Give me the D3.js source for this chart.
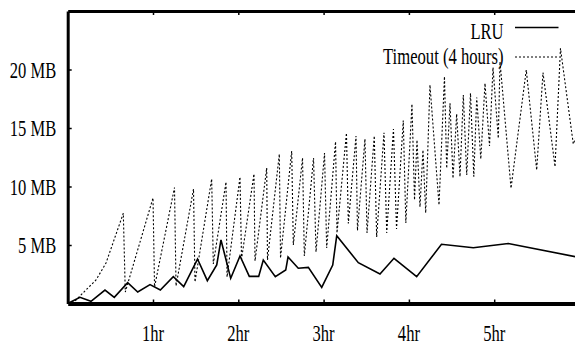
<!DOCTYPE html>
<html>
<head>
<meta charset="utf-8">
<script src="https://cdn.jsdelivr.net/npm/d3@7"></script>
<style>
  html, body { margin: 0; padding: 0; background: #fff; }
  svg { display: block; }
  .lbl { font-family: "Liberation Serif", "Times New Roman", Times, serif; }
</style>
</head>
<body>
<svg id="chart" width="575" height="346"></svg>
<script>
// series: LRU cache size (hours, MB)
const lruHours = [0, 0.144, 0.273, 0.437, 0.546, 0.703, 0.821, 0.965, 1.086, 1.238, 1.36, 1.522,
  1.637, 1.747, 1.797, 1.911, 2.02, 2.129, 2.239, 2.293, 2.434, 2.556, 2.583, 2.703, 2.821,
  2.978, 3.107, 3.154, 3.407, 3.661, 3.825, 4.091, 4.382, 4.755, 5.165, 6.0];
const lruMB = [0, 0.53, 0.19, 1.15, 0.53, 1.78, 0.98, 1.61, 1.15, 2.29, 1.44, 3.80,
  1.95, 3.29, 5.43, 2.15, 4.06, 2.32, 2.32, 3.72, 2.29, 2.86, 3.97, 3.01, 3.09,
  1.38, 3.29, 5.79, 3.49, 2.52, 3.86, 2.29, 5.06, 4.77, 5.13, 3.93];

// series: Timeout (4 hours) cache size (hours, MB)
const timeoutHours = [0, 0.086, 0.179, 0.332, 0.449, 0.543, 0.652, 0.675, 1.0, 1.018, 1.252, 1.27,
  1.475, 1.492, 1.688, 1.707, 1.856, 1.868, 2.02, 2.038, 2.184, 2.196, 2.333, 2.342, 2.481, 2.495,
  2.626, 2.645, 2.753, 2.774, 2.882, 2.911, 3.011, 3.036, 3.14, 3.157, 3.268, 3.29, 3.38, 3.397,
  3.485, 3.509, 3.594, 3.622, 3.708, 3.74, 3.819, 3.855, 3.934, 3.964, 4.036, 4.066, 4.095, 4.13,
  4.165, 4.197, 4.247, 4.353, 4.417, 4.443, 4.482, 4.517, 4.56, 4.599, 4.638, 4.678, 4.722, 4.761,
  4.795, 4.843, 4.892, 4.945, 4.986, 5.048, 5.068, 5.197, 5.376, 5.498, 5.572, 5.713, 5.777, 5.927, 6.0];
const timeoutMB = [0, 0.21, 0.90, 2.01, 3.46, 5.43, 7.71, 0.98, 9.02, 1.41, 9.91, 1.50,
  9.79, 1.84, 10.64, 3.38, 10.38, 2.26, 10.81, 3.80, 11.07, 3.63, 11.58, 3.72, 12.78, 3.89,
  13.03, 5.00, 12.44, 4.06, 12.44, 4.40, 12.86, 4.74, 13.83, 6.03, 14.57, 6.84, 14.32, 6.24,
  14.06, 6.03, 14.32, 5.68, 14.60, 6.03, 14.91, 6.37, 15.64, 6.88, 17.05, 8.85, 13.97, 8.25,
  13.12, 7.74, 18.68, 8.42, 19.40, 11.56, 17.11, 10.70, 16.20, 10.84, 17.82, 10.98, 17.97, 10.84,
  17.61, 12.35, 18.82, 13.46, 20.17, 14.12, 20.68, 9.85, 19.96, 11.41, 19.74, 11.69, 21.81, 13.63, 15.0];

const yTicks = [5, 10, 15, 20];
const xTicks = [1, 2, 3, 4, 5];
const legendLabels = ['LRU', 'Timeout (4 hours)'];

// gnuplot-ish look: narrow Times text. Widths are pinned with textLength
// (Times advance widths, em units) so the squeeze holds whatever font is picked.
const FONT_SIZE = 23;
const SQUEEZE = 0.72;
const timesEm = {
  '0': 0.5, '1': 0.5, '2': 0.5, '3': 0.5, '4': 0.5, '5': 0.5, ' ': 0.25,
  M: 0.889, B: 0.667, L: 0.611, R: 0.667, U: 0.722, T: 0.611,
  h: 0.5, r: 0.333, i: 0.278, m: 0.778, e: 0.444, o: 0.5, u: 0.5, t: 0.278, s: 0.389,
  '(': 0.333, ')': 0.333,
};
const textWidth = str => [...str].reduce((a, c) => a + (timesEm[c] || 0.5), 0) * FONT_SIZE * SQUEEZE;

const svg = d3.select('#chart');
const plotLeft = 67.7, plotRight = 579.5, plotTop = 11, plotBottom = 303.5;

const x = d3.scaleLinear().domain([0, 6]).range([plotLeft, plotRight]);
const y = d3.scaleLinear().domain([0, 25]).range([plotBottom, plotTop]);

svg.append('defs').append('clipPath').attr('id', 'plot-clip')
  .append('rect')
  .attr('x', plotLeft).attr('y', plotTop)
  .attr('width', plotRight - plotLeft).attr('height', plotBottom - plotTop);

const label = (parent, px, py, str, anchor) => parent.append('text')
  .attr('class', 'lbl')
  .attr('x', px).attr('y', py)
  .attr('text-anchor', anchor)
  .attr('fill', '#000')
  .attr('font-size', FONT_SIZE)
  .attr('textLength', textWidth(str))
  .attr('lengthAdjust', 'spacingAndGlyphs')
  .text(str);

// left border, ticks pointing in
const yAxis = svg.append('g')
  .attr('transform', `translate(${plotLeft},0)`)
  .call(d3.axisLeft(y).tickValues(yTicks).tickSize(-4).tickSizeOuter(0).tickFormat(''));
yAxis.select('.domain').attr('stroke-width', 3);

// bottom border, ticks pointing up
const xAxis = svg.append('g')
  .attr('transform', `translate(0,${plotBottom})`)
  .call(d3.axisBottom(x).tickValues(xTicks).tickSize(-4).tickSizeOuter(0).tickFormat(''));
xAxis.select('.domain').attr('stroke-width', 4);

// top border with mirrored ticks
const topAxis = svg.append('g')
  .attr('transform', `translate(0,${plotTop})`)
  .call(d3.axisTop(x).tickValues(xTicks).tickSize(-4).tickSizeOuter(0).tickFormat(''));
topAxis.select('.domain').attr('stroke-width', 3);

svg.selectAll('.domain, .tick line').attr('stroke', '#000');
svg.selectAll('.tick line').attr('stroke-width', 1.5);

const tickLabels = svg.append('g');
yTicks.forEach(v => label(tickLabels, plotLeft - 11.5, y(v) + 8, `${v} MB`, 'end'));
xTicks.forEach(v => label(tickLabels, x(v), plotBottom + 37.5, `${v}hr`, 'middle'));

const line = d3.line().x(d => x(d[0])).y(d => y(d[1]));
const lruData = lruHours.map((h, i) => [h, lruMB[i]]);
const timeoutData = timeoutHours.map((h, i) => [h, timeoutMB[i]]);

const plot = svg.append('g').attr('clip-path', 'url(#plot-clip)');

plot.append('path')
  .datum(timeoutData)
  .attr('d', line)
  .attr('fill', 'none')
  .attr('stroke', '#000')
  .attr('stroke-width', 1.1)
  .attr('stroke-dasharray', '2,2');

plot.append('path')
  .datum(lruData)
  .attr('d', line)
  .attr('fill', 'none')
  .attr('stroke', '#000')
  .attr('stroke-width', 1.6)
  .attr('stroke-linejoin', 'miter');

// key, top right
const legend = svg.append('g');
const keyRows = [
  { label: legendLabels[0], dash: null, width: 1.6, lineY: 27.5, textY: 38.5 },
  { label: legendLabels[1], dash: '2,2', width: 1.1, lineY: 57, textY: 64 },
];
keyRows.forEach(k => {
  label(legend, 503.5, k.textY, k.label, 'end');
  legend.append('line')
    .attr('x1', 515).attr('x2', 558.5)
    .attr('y1', k.lineY).attr('y2', k.lineY)
    .attr('stroke', '#000')
    .attr('stroke-width', k.width)
    .attr('stroke-dasharray', k.dash);
});
</script>
</body>
</html>
